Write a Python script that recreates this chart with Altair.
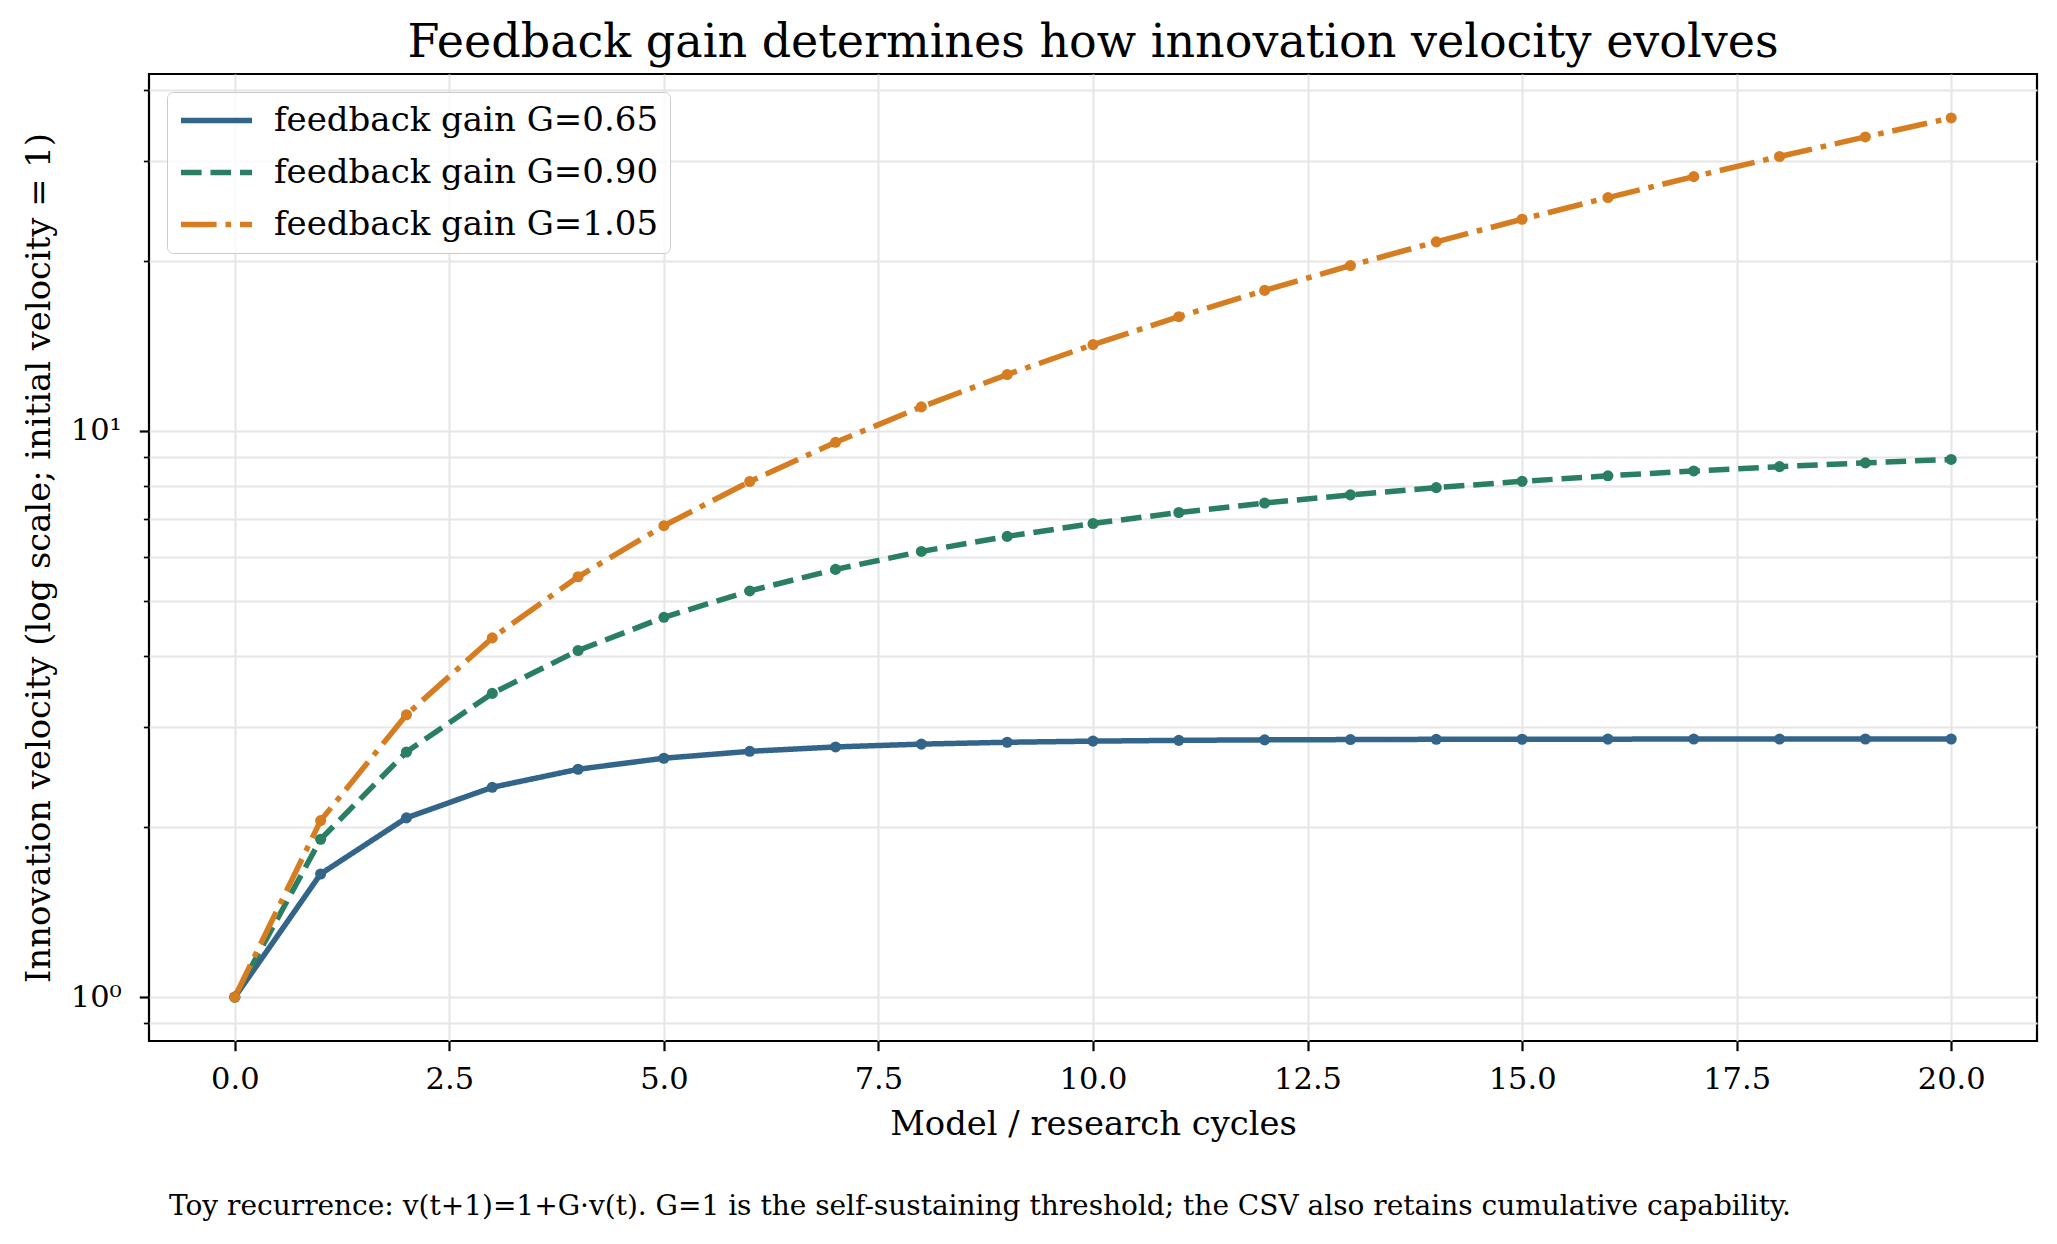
import altair as alt
import pandas as pd

# ---- data ----
cycles = list(range(21))
gain_labels = ["feedback gain G=0.65", "feedback gain G=0.90", "feedback gain G=1.05"]
v_065 = [1.000, 1.650, 2.073, 2.347, 2.526, 2.642, 2.717, 2.766, 2.798, 2.819, 2.832,
         2.841, 2.847, 2.850, 2.853, 2.854, 2.855, 2.856, 2.856, 2.857, 2.857]
v_090 = [1.000, 1.900, 2.710, 3.439, 4.095, 4.686, 5.217, 5.695, 6.126, 6.513, 6.862,
         7.176, 7.458, 7.712, 7.941, 8.147, 8.332, 8.499, 8.649, 8.784, 8.906]
v_105 = [1.000, 2.050, 3.153, 4.310, 5.526, 6.802, 8.142, 9.549, 11.027, 12.578, 14.207,
         15.917, 17.713, 19.599, 21.579, 23.657, 25.840, 28.132, 30.539, 33.066, 35.719]
x_ticks = [0, 2.5, 5, 7.5, 10, 12.5, 15, 17.5, 20]
y_ticks = [0.9, 1, 2, 3, 4, 5, 6, 7, 8, 9, 10, 20, 30, 40]
footnote = ["Toy recurrence: v(t+1)=1+G\u00b7v(t). G=1 is the self-sustaining threshold; the CSV also retains cumulative capability."]

colors = ["#33658A", "#2A7F62", "#D67D22"]
dashes = [[1, 0], [20.6, 8.9], [35.6, 8.9, 5.6, 8.9]]

rows = []
for lab, vals in zip(gain_labels, [v_065, v_090, v_105]):
    for t, v in zip(cycles, vals):
        rows.append({"cycle": t, "velocity": v, "series": lab})
df = pd.DataFrame(rows)

FONT = "DejaVu Serif"
LW = 5.5

x_enc = alt.X("cycle:Q",
              scale=alt.Scale(domain=[-1, 21], nice=False, zero=False),
              axis=alt.Axis(values=x_ticks, format=".1f", title="Model / research cycles"))
y_enc = alt.Y("velocity:Q",
              scale=alt.Scale(type="log", domain=[0.8364, 42.71], nice=False),
              axis=alt.Axis(values=y_ticks,
                            title="Innovation velocity (log scale; initial velocity = 1)",
                            labelExpr="datum.value == 1 ? '10\u2070' : (datum.value == 10 ? '10\u00b9' : '')",
                            tickSize={"condition": {"test": "datum.value == 1 || datum.value == 10", "value": 9.7}, "value": 5.6},
                            tickWidth={"condition": {"test": "datum.value == 1 || datum.value == 10", "value": 2.2}, "value": 1.7}))

leg = alt.Legend(title=None, symbolType="stroke", labelLimit=0)
color_enc = alt.Color("series:N", scale=alt.Scale(domain=gain_labels, range=colors), legend=leg)
dash_enc = alt.StrokeDash("series:N", scale=alt.Scale(domain=gain_labels, range=dashes), legend=leg)

lines = alt.Chart(df).mark_line(strokeWidth=LW, clip=True).encode(
    x=x_enc, y=y_enc, color=color_enc, strokeDash=dash_enc, detail="series:N")
points = alt.Chart(df).mark_point(filled=True, size=123, opacity=1, shape="circle").encode(
    x=x_enc, y=y_enc, color=color_enc)

note = alt.Chart(pd.DataFrame({"t": footnote})).mark_text(
    align="left", baseline="alphabetic", font=FONT, fontSize=28, color="black"
).encode(text="t:N", x=alt.value(20), y=alt.value(1141))

chart = alt.layer(lines, points, note).properties(
    width=1888, height=967,
    padding={"left": 14, "top": 12, "right": 10, "bottom": 10},
    title=alt.TitleParams("Feedback gain determines how innovation velocity evolves",
                          font=FONT, fontSize=46, fontWeight="normal", color="black",
                          anchor="middle", offset=7),
).configure_view(
    stroke="black", strokeWidth=2.2
).configure_axis(
    labelFont=FONT, labelFontSize=30.5, labelColor="black",
    titleFont=FONT, titleFontSize=33.8, titleFontWeight="normal", titleColor="black",
    tickColor="black", tickSize=9.7, tickWidth=2.2,
    domain=False,
    grid=True, gridColor="#e6e6e6", gridWidth=2,
    labelPadding=14, titlePadding=12,
).configure_axisY(
    labelPadding=18, titlePadding=14
).configure_legend(
    orient="top-left", offset=18,
    labelFont=FONT, labelFontSize=34, labelColor="black", labelLimit=0,
    symbolSize=5041, symbolStrokeWidth=LW, symbolType="stroke",
    strokeColor="#cccccc", fillColor="rgba(255,255,255,0.8)", cornerRadius=6,
    padding=11, rowPadding=17, labelOffset=19, clipHeight=35,
)

chart.save("out.html", embed_options={"renderer": "svg", "actions": False})
